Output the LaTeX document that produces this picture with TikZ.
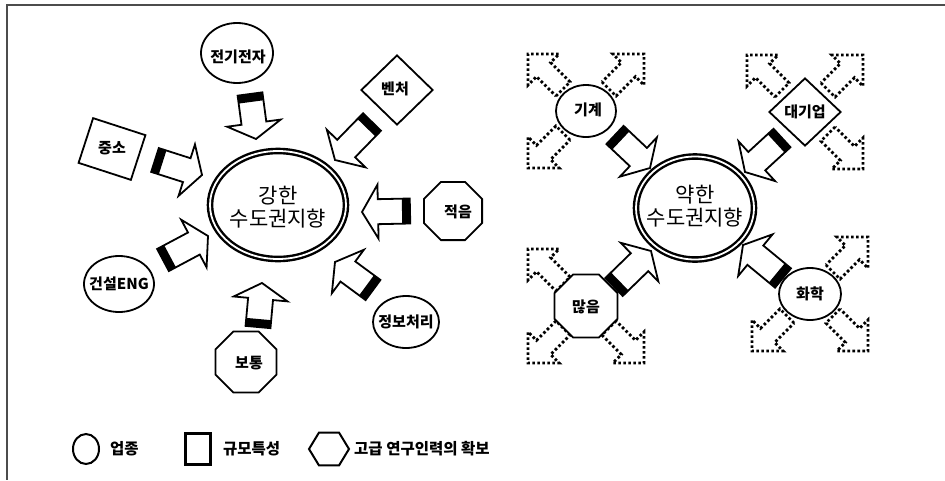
\documentclass[tikz,border=0pt]{standalone}
\usepackage{fontspec}
\newfontfamily\kr{Noto Sans CJK KR}
\usetikzlibrary{shapes.geometric,calc}

% block arrow: #1 style, #2 tail, #3 tip, #4 shaft half width, #5 head half width, #6 head length
\newcommand{\blockarrow}[6]{%
  \draw[#1] let \p1=(#2), \p2=(#3), \n1={atan2(\y2-\y1,\x2-\x1)} in
    ($(\p1)+(\n1+90:#4)$) -- ($(\p1)+(\n1-90:#4)$)
    -- ($(\p2)+(\n1+180:#6)+(\n1-90:#4)$) -- ($(\p2)+(\n1+180:#6)+(\n1-90:#5)$)
    -- (\p2)
    -- ($(\p2)+(\n1+180:#6)+(\n1+90:#5)$) -- ($(\p2)+(\n1+180:#6)+(\n1+90:#4)$) -- cycle;
}
% black band at the tail: #1 tail, #2 tip, #3 half width, #4 thickness
\newcommand{\tailband}[4]{%
  \fill[black] let \p1=(#1), \p2=(#2), \n1={atan2(\y2-\y1,\x2-\x1)} in
    ($(\p1)+(\n1+90:#3)$) -- ($(\p1)+(\n1-90:#3)$)
    -- ($(\p1)+(\n1:#4)+(\n1-90:#3)$) -- ($(\p1)+(\n1:#4)+(\n1+90:#3)$) -- cycle;
}
\newcommand{\solidarrow}[2]{%
  \blockarrow{solidarr}{#1}{#2}{12.5pt}{27pt}{16pt}%
  \tailband{#1}{#2}{12.5pt}{8pt}%
}
\newcommand{\dotarrow}[2]{%
  \blockarrow{dotarr}{#1}{#2}{10pt}{22pt}{22pt}%
}

\tikzset{
  shp/.style={draw, line width=1.8pt, inner sep=0pt, fill=white},
  lbl/.style={font=\kr\bfseries\fontsize{15}{16}\selectfont, inner sep=0pt},
  ctext/.style={font=\kr\fontsize{21}{23}\selectfont, align=center, inner sep=0pt},
  legtext/.style={font=\kr\bfseries\fontsize{15.5}{16}\selectfont, inner sep=0pt, anchor=west},
  dblring/.style={draw, ellipse, line width=2.4pt, double, double distance=1.8pt, inner sep=0pt},
  solidarr/.style={draw, line width=1.8pt, fill=white, line join=miter},
  dotarr/.style={draw, line width=2.8pt, dash pattern=on 2.6pt off 2.4pt, line join=miter},
  framel/.style={draw=black!70, line width=2pt},
  oct/.style={regular polygon, regular polygon sides=8}
}

\begin{document}
\begin{tikzpicture}[x=1pt,y=-1pt]
\useasboundingbox (0,0) rectangle (945,480);
\fill[white] (0,0) rectangle (945,480);

% frame
\coordinate (f1) at (6,5);
\coordinate (f2) at (945,5);
\coordinate (f3) at (7,4);
\coordinate (f4) at (7,480);
\draw[framel] (f1) -- (f2);
\draw[framel] (f3) -- (f4);

% ===== left cluster =====
\node[dblring, minimum width=136pt, minimum height=108pt] (c1) at (278,205) {};
\node[ctext] at (278,207) {강한\\수도권지향};

\node[shp, ellipse, minimum width=72pt, minimum height=60pt] (jg) at (237,53) {};
\node[lbl] at (238,57) {전기전자};

\node[shp, diamond, minimum width=72pt, minimum height=70pt] (bc) at (397,90) {};
\node[lbl] at (395,89) {벤처};

\node[shp, rectangle, minimum width=55pt, minimum height=47pt, rotate=-18] (js) at (112,149) {};
\node[lbl] at (112,148) {중소};

\node[shp, oct, minimum size=63pt] (jeo) at (453,211) {};
\node[lbl] at (458,212) {적음};

\node[shp, ellipse, minimum width=66pt, minimum height=52pt] (jb) at (406,322) {};
\node[lbl] at (406,322) {정보처리};

\node[shp, oct, minimum size=66pt] (bt) at (246,362) {};
\node[lbl] at (249,363) {보통};

\node[shp, ellipse, minimum width=70pt, minimum height=56pt] (gs) at (119,284) {};
\node[lbl] at (119,284) {건설ENG};

% arrows of the left cluster
\coordinate (t1) at (250,94);  \coordinate (h1) at (256,139);
\coordinate (t2) at (372,122); \coordinate (h2) at (335,160);
\coordinate (t3) at (155,160); \coordinate (h3) at (202,175);
\coordinate (t4) at (410,211); \coordinate (h4) at (362,212);
\coordinate (t5) at (373,290); \coordinate (h5) at (335,262);
\coordinate (t6) at (258,327); \coordinate (h6) at (262,283);
\coordinate (t7) at (163,260); \coordinate (h7) at (208,236);
\solidarrow{t1}{h1}
\solidarrow{t2}{h2}
\solidarrow{t3}{h3}
\solidarrow{t4}{h4}
\solidarrow{t5}{h5}
\solidarrow{t6}{h6}
\solidarrow{t7}{h7}

% ===== right cluster =====
\coordinate (gg0) at (586,111);
\coordinate (dg0) at (805,112);
\coordinate (mn0) at (586,306);
\coordinate (hh0) at (810,294);

% dotted arrows (drawn first, nodes cover their tails)
\foreach \n/\sx/\sy in {gg0/-1/-1, gg0/1/-1, gg0/-1/1,
                        dg0/-1/-1, dg0/1/-1, dg0/1/1,
                        mn0/-1/-1, mn0/-1/1, mn0/1/1,
                        hh0/1/-1, hh0/-1/1, hh0/1/1}{
  \coordinate (dt) at ($(\n)+(23*\sx,22*\sy)$);
  \coordinate (dh) at ($(\n)+(58*\sx,57*\sy)$);
  \dotarrow{dt}{dh}
}

\node[dblring, minimum width=118pt, minimum height=103pt] (c2) at (695,208) {};
\node[ctext] at (695,206) {약한\\수도권지향};

\node[shp, ellipse, minimum width=60pt, minimum height=52pt] (gg) at (gg0) {};
\node[lbl] at (588,110) {기계};

\node[shp, diamond, minimum width=72pt, minimum height=68pt] (dg) at (dg0) {};
\node[lbl] at (805,112) {대기업};

\node[shp, oct, minimum size=68pt] (mn) at (mn0) {};
\node[lbl] at (586,307) {많음};

\node[shp, ellipse, minimum width=62pt, minimum height=52pt] (hh) at (hh0) {};
\node[lbl] at (810,294) {화학};

\coordinate (r1t) at (615,135); \coordinate (r1h) at (650,168);
\coordinate (r2t) at (782,138); \coordinate (r2h) at (745,172);
\coordinate (r3t) at (614,287); \coordinate (r3h) at (651,251);
\coordinate (r4t) at (783,278); \coordinate (r4h) at (743,245);
\solidarrow{r1t}{r1h}
\solidarrow{r2t}{r2h}
\solidarrow{r3t}{r3h}
\solidarrow{r4t}{r4h}

% ===== legend =====
\node[draw, ellipse, line width=2pt, minimum width=26pt, minimum height=30pt, inner sep=0pt] (lg1) at (86,449) {};
\node[legtext] at (110,449) {업종};
\node[draw, line width=3pt, minimum width=25pt, minimum height=31pt, inner sep=0pt] (lg2) at (198,449) {};
\node[legtext] at (223,449) {규모특성};
\node[draw, regular polygon, regular polygon sides=6, line width=2pt, minimum size=40pt, yscale=0.95, inner sep=0pt] (lg3) at (329,449) {};
\node[legtext] at (354,449) {고급 연구인력의 확보};
\end{tikzpicture}
\end{document}
